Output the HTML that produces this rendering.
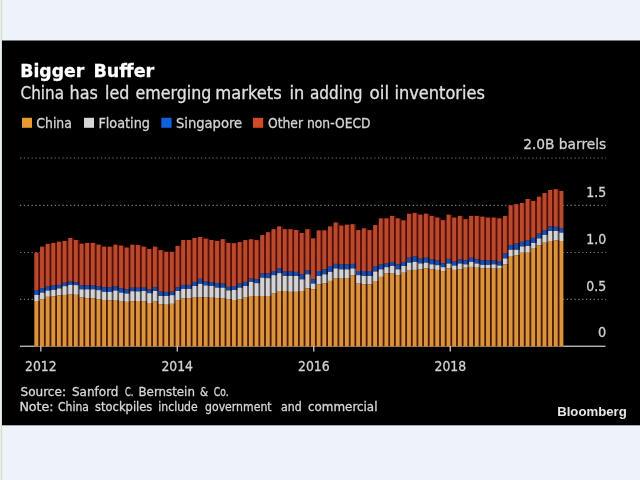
<!DOCTYPE html>
<html lang="en"><head><meta charset="utf-8"><title>Bigger Buffer</title>
<style>
html,body{margin:0;padding:0;background:#eef2fb;overflow:hidden}
svg{display:block;font-family:'DejaVu Sans Condensed','DejaVu Sans',sans-serif}
</style></head><body>
<svg width="640" height="480" viewBox="0 0 640 480">
<g>
<rect x="-30" y="-30" width="700" height="540" fill="#eef2fb"/>
<rect x="0" y="0" width="1" height="480" fill="#e8eeec"/>
<rect x="1" y="0" width="1" height="480" fill="#d4dcda"/>
<rect x="2" y="0" width="1" height="480" fill="#e9eeee"/>
<rect x="3" y="0" width="2" height="480" fill="#f0f4f7"/>
<rect x="2" y="40.5" width="670" height="384.8" fill="#000"/>
<g>
<text y="77.4" font-size="18" font-weight="bold" fill="#fff" stroke="#fff" stroke-width="0.3" style="font-family:'DejaVu Sans','DejaVu Sans',sans-serif"><tspan x="20.29" textLength="63.99" lengthAdjust="spacingAndGlyphs">Bigger</tspan> <tspan x="93.42" textLength="60.86" lengthAdjust="spacingAndGlyphs">Buffer</tspan></text>
<text y="98.8" font-size="18" font-weight="normal" fill="#e0e0e0" stroke="#e0e0e0" stroke-width="0.3" style="font-family:'DejaVu Sans Condensed','DejaVu Sans',sans-serif"><tspan x="20.6" textLength="43.36" lengthAdjust="spacingAndGlyphs">China</tspan> <tspan x="69.61" textLength="28.32" lengthAdjust="spacingAndGlyphs">has</tspan> <tspan x="105.02" textLength="24.35" lengthAdjust="spacingAndGlyphs">led</tspan> <tspan x="135.5" textLength="75.76" lengthAdjust="spacingAndGlyphs">emerging</tspan> <tspan x="215.24" textLength="66.45" lengthAdjust="spacingAndGlyphs">markets</tspan> <tspan x="289.5" textLength="14.77" lengthAdjust="spacingAndGlyphs">in</tspan> <tspan x="310.0" textLength="52.46" lengthAdjust="spacingAndGlyphs">adding</tspan> <tspan x="369.5" textLength="19.55" lengthAdjust="spacingAndGlyphs">oil</tspan> <tspan x="394.5" textLength="90.34" lengthAdjust="spacingAndGlyphs">inventories</tspan></text>
<rect x="22" y="117.8" width="10" height="10" fill="#e89a30"/>
<text x="36.3" y="127.6" textLength="35.6" lengthAdjust="spacingAndGlyphs" font-size="14" fill="#d2d2d2" stroke="#d2d2d2" stroke-width="0.3" text-anchor="start" >China</text>
<rect x="84" y="117.8" width="10" height="10" fill="#d6d6d6"/>
<text x="98.4" y="127.6" textLength="51.6" lengthAdjust="spacingAndGlyphs" font-size="14" fill="#d2d2d2" stroke="#d2d2d2" stroke-width="0.3" text-anchor="start" >Floating</text>
<rect x="161.3" y="117.8" width="10.3" height="10" fill="#105fdc"/>
<text x="175.9" y="127.6" textLength="66.3" lengthAdjust="spacingAndGlyphs" font-size="14" fill="#d2d2d2" stroke="#d2d2d2" stroke-width="0.3" text-anchor="start" >Singapore</text>
<rect x="253" y="117.8" width="10.2" height="10" fill="#d24a24"/>
<text x="268" y="127.6" textLength="102.6" lengthAdjust="spacingAndGlyphs" font-size="14" fill="#d2d2d2" stroke="#d2d2d2" stroke-width="0.3" text-anchor="start" >Other non-OECD</text>
<text x="606.2" y="148.7" textLength="83" lengthAdjust="spacingAndGlyphs" font-size="14.3" fill="#d0d0d0" stroke="#d0d0d0" stroke-width="0.3" text-anchor="end" >2.0B barrels</text>
<text x="606.2" y="196.5" textLength="19.9" lengthAdjust="spacingAndGlyphs" font-size="14.3" fill="#d0d0d0" stroke="#d0d0d0" stroke-width="0.3" text-anchor="end" >1.5</text>
<text x="606.2" y="243.7" textLength="19.9" lengthAdjust="spacingAndGlyphs" font-size="14.3" fill="#d0d0d0" stroke="#d0d0d0" stroke-width="0.3" text-anchor="end" >1.0</text>
<text x="606.2" y="290.5" textLength="19.9" lengthAdjust="spacingAndGlyphs" font-size="14.3" fill="#d0d0d0" stroke="#d0d0d0" stroke-width="0.3" text-anchor="end" >0.5</text>
<text x="606.2" y="337.4" textLength="8.2" lengthAdjust="spacingAndGlyphs" font-size="14.3" fill="#d0d0d0" stroke="#d0d0d0" stroke-width="0.3" text-anchor="end" >0</text>
</g>
<line x1="20" x2="606" y1="158" y2="158" stroke="#787878" stroke-width="1.15" stroke-dasharray="1.3 2.55"/>
<line x1="20" x2="606" y1="205.3" y2="205.3" stroke="#787878" stroke-width="1.15" stroke-dasharray="1.3 2.55"/>
<line x1="20" x2="606" y1="252.5" y2="252.5" stroke="#787878" stroke-width="1.15" stroke-dasharray="1.3 2.55"/>
<line x1="20" x2="606" y1="299.3" y2="299.3" stroke="#787878" stroke-width="1.15" stroke-dasharray="1.3 2.55"/>

<rect x="20" y="345.6" width="585.5" height="1.35" fill="#bcbcbc"/>
<g shape-rendering="auto">
<rect x="34.40" y="252.6" width="5.696" height="37.6" fill="#560e04"/><rect x="34.40" y="290.2" width="5.696" height="4.7" fill="#0a1446"/><rect x="34.40" y="294.9" width="5.696" height="6.1" fill="#584e4c"/><rect x="34.40" y="301.0" width="5.696" height="45.5" fill="#4a1a04"/>
<rect x="40.05" y="246.7" width="5.696" height="41.5" fill="#560e04"/><rect x="40.05" y="288.2" width="5.696" height="4.5" fill="#0a1446"/><rect x="40.05" y="292.7" width="5.696" height="6.6" fill="#584e4c"/><rect x="40.05" y="299.3" width="5.696" height="47.2" fill="#4a1a04"/>
<rect x="45.69" y="243.9" width="5.696" height="42.6" fill="#560e04"/><rect x="45.69" y="286.5" width="5.696" height="4.1" fill="#0a1446"/><rect x="45.69" y="290.6" width="5.696" height="6.2" fill="#584e4c"/><rect x="45.69" y="296.8" width="5.696" height="49.7" fill="#4a1a04"/>
<rect x="51.34" y="242.9" width="5.696" height="42.6" fill="#560e04"/><rect x="51.34" y="285.5" width="5.696" height="4.4" fill="#0a1446"/><rect x="51.34" y="289.9" width="5.696" height="6.5" fill="#584e4c"/><rect x="51.34" y="296.4" width="5.696" height="50.1" fill="#4a1a04"/>
<rect x="56.98" y="241.7" width="5.696" height="43.2" fill="#560e04"/><rect x="56.98" y="284.9" width="5.696" height="3.6" fill="#0a1446"/><rect x="56.98" y="288.5" width="5.696" height="6.9" fill="#584e4c"/><rect x="56.98" y="295.4" width="5.696" height="51.1" fill="#4a1a04"/>
<rect x="62.63" y="240.9" width="5.696" height="41.8" fill="#560e04"/><rect x="62.63" y="282.7" width="5.696" height="3.5" fill="#0a1446"/><rect x="62.63" y="286.2" width="5.696" height="8.7" fill="#584e4c"/><rect x="62.63" y="294.9" width="5.696" height="51.6" fill="#4a1a04"/>
<rect x="68.28" y="238.0" width="5.696" height="43.5" fill="#560e04"/><rect x="68.28" y="281.5" width="5.696" height="3.4" fill="#0a1446"/><rect x="68.28" y="284.9" width="5.696" height="9.6" fill="#584e4c"/><rect x="68.28" y="294.5" width="5.696" height="52.0" fill="#4a1a04"/>
<rect x="73.92" y="240.0" width="5.696" height="42.4" fill="#560e04"/><rect x="73.92" y="282.4" width="5.696" height="2.8" fill="#0a1446"/><rect x="73.92" y="285.2" width="5.696" height="9.6" fill="#584e4c"/><rect x="73.92" y="294.8" width="5.696" height="51.7" fill="#4a1a04"/>
<rect x="79.57" y="243.7" width="5.696" height="41.5" fill="#560e04"/><rect x="79.57" y="285.2" width="5.696" height="4.2" fill="#0a1446"/><rect x="79.57" y="289.4" width="5.696" height="8.0" fill="#584e4c"/><rect x="79.57" y="297.4" width="5.696" height="49.1" fill="#4a1a04"/>
<rect x="85.21" y="242.9" width="5.696" height="42.6" fill="#560e04"/><rect x="85.21" y="285.5" width="5.696" height="3.9" fill="#0a1446"/><rect x="85.21" y="289.4" width="5.696" height="8.8" fill="#584e4c"/><rect x="85.21" y="298.2" width="5.696" height="48.3" fill="#4a1a04"/>
<rect x="90.86" y="242.9" width="5.696" height="42.6" fill="#560e04"/><rect x="90.86" y="285.5" width="5.696" height="3.9" fill="#0a1446"/><rect x="90.86" y="289.4" width="5.696" height="9.0" fill="#584e4c"/><rect x="90.86" y="298.4" width="5.696" height="48.1" fill="#4a1a04"/>
<rect x="96.51" y="244.7" width="5.696" height="41.5" fill="#560e04"/><rect x="96.51" y="286.2" width="5.696" height="4.0" fill="#0a1446"/><rect x="96.51" y="290.2" width="5.696" height="9.0" fill="#584e4c"/><rect x="96.51" y="299.2" width="5.696" height="47.3" fill="#4a1a04"/>
<rect x="102.15" y="246.7" width="5.696" height="40.5" fill="#560e04"/><rect x="102.15" y="287.2" width="5.696" height="4.7" fill="#0a1446"/><rect x="102.15" y="291.9" width="5.696" height="8.1" fill="#584e4c"/><rect x="102.15" y="300.0" width="5.696" height="46.5" fill="#4a1a04"/>
<rect x="107.80" y="246.7" width="5.696" height="40.5" fill="#560e04"/><rect x="107.80" y="287.2" width="5.696" height="4.7" fill="#0a1446"/><rect x="107.80" y="291.9" width="5.696" height="8.5" fill="#584e4c"/><rect x="107.80" y="300.4" width="5.696" height="46.1" fill="#4a1a04"/>
<rect x="113.44" y="244.7" width="5.696" height="41.5" fill="#560e04"/><rect x="113.44" y="286.2" width="5.696" height="4.4" fill="#0a1446"/><rect x="113.44" y="290.6" width="5.696" height="9.4" fill="#584e4c"/><rect x="113.44" y="300.0" width="5.696" height="46.5" fill="#4a1a04"/>
<rect x="119.09" y="245.6" width="5.696" height="42.6" fill="#560e04"/><rect x="119.09" y="288.2" width="5.696" height="4.5" fill="#0a1446"/><rect x="119.09" y="292.7" width="5.696" height="8.9" fill="#584e4c"/><rect x="119.09" y="301.6" width="5.696" height="44.9" fill="#4a1a04"/>
<rect x="124.74" y="247.6" width="5.696" height="41.8" fill="#560e04"/><rect x="124.74" y="289.4" width="5.696" height="4.2" fill="#0a1446"/><rect x="124.74" y="293.6" width="5.696" height="8.2" fill="#584e4c"/><rect x="124.74" y="301.8" width="5.696" height="44.7" fill="#4a1a04"/>
<rect x="130.38" y="244.7" width="5.696" height="43.0" fill="#560e04"/><rect x="130.38" y="287.7" width="5.696" height="3.6" fill="#0a1446"/><rect x="130.38" y="291.3" width="5.696" height="9.9" fill="#584e4c"/><rect x="130.38" y="301.2" width="5.696" height="45.3" fill="#4a1a04"/>
<rect x="136.03" y="245.1" width="5.696" height="42.6" fill="#560e04"/><rect x="136.03" y="287.7" width="5.696" height="3.8" fill="#0a1446"/><rect x="136.03" y="291.5" width="5.696" height="9.5" fill="#584e4c"/><rect x="136.03" y="301.0" width="5.696" height="45.5" fill="#4a1a04"/>
<rect x="141.67" y="246.7" width="5.696" height="41.0" fill="#560e04"/><rect x="141.67" y="287.7" width="5.696" height="3.3" fill="#0a1446"/><rect x="141.67" y="291.0" width="5.696" height="10.5" fill="#584e4c"/><rect x="141.67" y="301.5" width="5.696" height="45.0" fill="#4a1a04"/>
<rect x="147.32" y="248.9" width="5.696" height="40.5" fill="#560e04"/><rect x="147.32" y="289.4" width="5.696" height="3.8" fill="#0a1446"/><rect x="147.32" y="293.2" width="5.696" height="9.8" fill="#584e4c"/><rect x="147.32" y="303.0" width="5.696" height="43.5" fill="#4a1a04"/>
<rect x="152.97" y="246.7" width="5.696" height="40.5" fill="#560e04"/><rect x="152.97" y="287.2" width="5.696" height="3.8" fill="#0a1446"/><rect x="152.97" y="291.0" width="5.696" height="10.5" fill="#584e4c"/><rect x="152.97" y="301.5" width="5.696" height="45.0" fill="#4a1a04"/>
<rect x="158.61" y="250.1" width="5.696" height="41.5" fill="#560e04"/><rect x="158.61" y="291.6" width="5.696" height="4.4" fill="#0a1446"/><rect x="158.61" y="296.0" width="5.696" height="8.2" fill="#584e4c"/><rect x="158.61" y="304.2" width="5.696" height="42.3" fill="#4a1a04"/>
<rect x="164.26" y="251.8" width="5.696" height="40.1" fill="#560e04"/><rect x="164.26" y="291.9" width="5.696" height="4.1" fill="#0a1446"/><rect x="164.26" y="296.0" width="5.696" height="8.7" fill="#584e4c"/><rect x="164.26" y="304.7" width="5.696" height="41.8" fill="#4a1a04"/>
<rect x="169.90" y="251.8" width="5.696" height="39.8" fill="#560e04"/><rect x="169.90" y="291.6" width="5.696" height="3.6" fill="#0a1446"/><rect x="169.90" y="295.2" width="5.696" height="8.6" fill="#584e4c"/><rect x="169.90" y="303.8" width="5.696" height="42.7" fill="#4a1a04"/>
<rect x="175.55" y="245.9" width="5.696" height="41.3" fill="#560e04"/><rect x="175.55" y="287.2" width="5.696" height="3.8" fill="#0a1446"/><rect x="175.55" y="291.0" width="5.696" height="9.1" fill="#584e4c"/><rect x="175.55" y="300.1" width="5.696" height="46.4" fill="#4a1a04"/>
<rect x="181.20" y="240.0" width="5.696" height="44.9" fill="#560e04"/><rect x="181.20" y="284.9" width="5.696" height="4.0" fill="#0a1446"/><rect x="181.20" y="288.9" width="5.696" height="9.5" fill="#584e4c"/><rect x="181.20" y="298.4" width="5.696" height="48.1" fill="#4a1a04"/>
<rect x="186.84" y="240.0" width="5.696" height="44.9" fill="#560e04"/><rect x="186.84" y="284.9" width="5.696" height="4.0" fill="#0a1446"/><rect x="186.84" y="288.9" width="5.696" height="9.5" fill="#584e4c"/><rect x="186.84" y="298.4" width="5.696" height="48.1" fill="#4a1a04"/>
<rect x="192.49" y="238.0" width="5.696" height="43.9" fill="#560e04"/><rect x="192.49" y="281.9" width="5.696" height="4.1" fill="#0a1446"/><rect x="192.49" y="286.0" width="5.696" height="11.6" fill="#584e4c"/><rect x="192.49" y="297.6" width="5.696" height="48.9" fill="#4a1a04"/>
<rect x="198.13" y="237.0" width="5.696" height="41.8" fill="#560e04"/><rect x="198.13" y="278.8" width="5.696" height="5.1" fill="#0a1446"/><rect x="198.13" y="283.9" width="5.696" height="13.3" fill="#584e4c"/><rect x="198.13" y="297.2" width="5.696" height="49.3" fill="#4a1a04"/>
<rect x="203.78" y="238.7" width="5.696" height="42.8" fill="#560e04"/><rect x="203.78" y="281.5" width="5.696" height="4.0" fill="#0a1446"/><rect x="203.78" y="285.5" width="5.696" height="12.0" fill="#584e4c"/><rect x="203.78" y="297.5" width="5.696" height="49.0" fill="#4a1a04"/>
<rect x="209.43" y="240.0" width="5.696" height="42.2" fill="#560e04"/><rect x="209.43" y="282.2" width="5.696" height="3.8" fill="#0a1446"/><rect x="209.43" y="286.0" width="5.696" height="11.7" fill="#584e4c"/><rect x="209.43" y="297.7" width="5.696" height="48.8" fill="#4a1a04"/>
<rect x="215.07" y="240.9" width="5.696" height="42.3" fill="#560e04"/><rect x="215.07" y="283.2" width="5.696" height="4.5" fill="#0a1446"/><rect x="215.07" y="287.7" width="5.696" height="10.6" fill="#584e4c"/><rect x="215.07" y="298.3" width="5.696" height="48.2" fill="#4a1a04"/>
<rect x="220.72" y="239.2" width="5.696" height="44.3" fill="#560e04"/><rect x="220.72" y="283.5" width="5.696" height="4.2" fill="#0a1446"/><rect x="220.72" y="287.7" width="5.696" height="10.7" fill="#584e4c"/><rect x="220.72" y="298.4" width="5.696" height="48.1" fill="#4a1a04"/>
<rect x="226.36" y="243.0" width="5.696" height="43.9" fill="#560e04"/><rect x="226.36" y="286.9" width="5.696" height="3.6" fill="#0a1446"/><rect x="226.36" y="290.5" width="5.696" height="8.7" fill="#584e4c"/><rect x="226.36" y="299.2" width="5.696" height="47.3" fill="#4a1a04"/>
<rect x="232.01" y="243.2" width="5.696" height="42.8" fill="#560e04"/><rect x="232.01" y="286.0" width="5.696" height="4.0" fill="#0a1446"/><rect x="232.01" y="290.0" width="5.696" height="10.0" fill="#584e4c"/><rect x="232.01" y="300.0" width="5.696" height="46.5" fill="#4a1a04"/>
<rect x="237.66" y="242.1" width="5.696" height="41.5" fill="#560e04"/><rect x="237.66" y="283.6" width="5.696" height="4.1" fill="#0a1446"/><rect x="237.66" y="287.7" width="5.696" height="11.6" fill="#584e4c"/><rect x="237.66" y="299.3" width="5.696" height="47.2" fill="#4a1a04"/>
<rect x="243.30" y="240.1" width="5.696" height="41.8" fill="#560e04"/><rect x="243.30" y="281.9" width="5.696" height="4.1" fill="#0a1446"/><rect x="243.30" y="286.0" width="5.696" height="11.6" fill="#584e4c"/><rect x="243.30" y="297.6" width="5.696" height="48.9" fill="#4a1a04"/>
<rect x="248.95" y="239.2" width="5.696" height="39.3" fill="#560e04"/><rect x="248.95" y="278.5" width="5.696" height="3.4" fill="#0a1446"/><rect x="248.95" y="281.9" width="5.696" height="14.1" fill="#584e4c"/><rect x="248.95" y="296.0" width="5.696" height="50.5" fill="#4a1a04"/>
<rect x="254.59" y="240.1" width="5.696" height="39.3" fill="#560e04"/><rect x="254.59" y="279.4" width="5.696" height="3.8" fill="#0a1446"/><rect x="254.59" y="283.2" width="5.696" height="12.8" fill="#584e4c"/><rect x="254.59" y="296.0" width="5.696" height="50.5" fill="#4a1a04"/>
<rect x="260.24" y="235.1" width="5.696" height="38.4" fill="#560e04"/><rect x="260.24" y="273.5" width="5.696" height="4.2" fill="#0a1446"/><rect x="260.24" y="277.7" width="5.696" height="18.3" fill="#584e4c"/><rect x="260.24" y="296.0" width="5.696" height="50.5" fill="#4a1a04"/>
<rect x="265.89" y="232.2" width="5.696" height="41.3" fill="#560e04"/><rect x="265.89" y="273.5" width="5.696" height="4.7" fill="#0a1446"/><rect x="265.89" y="278.2" width="5.696" height="17.8" fill="#584e4c"/><rect x="265.89" y="296.0" width="5.696" height="50.5" fill="#4a1a04"/>
<rect x="271.53" y="229.2" width="5.696" height="41.8" fill="#560e04"/><rect x="271.53" y="271.0" width="5.696" height="4.2" fill="#0a1446"/><rect x="271.53" y="275.2" width="5.696" height="18.3" fill="#584e4c"/><rect x="271.53" y="293.5" width="5.696" height="53.0" fill="#4a1a04"/>
<rect x="277.18" y="226.4" width="5.696" height="42.1" fill="#560e04"/><rect x="277.18" y="268.5" width="5.696" height="4.7" fill="#0a1446"/><rect x="277.18" y="273.2" width="5.696" height="17.8" fill="#584e4c"/><rect x="277.18" y="291.0" width="5.696" height="55.5" fill="#4a1a04"/>
<rect x="282.82" y="229.2" width="5.696" height="42.3" fill="#560e04"/><rect x="282.82" y="271.5" width="5.696" height="4.5" fill="#0a1446"/><rect x="282.82" y="276.0" width="5.696" height="15.0" fill="#584e4c"/><rect x="282.82" y="291.0" width="5.696" height="55.5" fill="#4a1a04"/>
<rect x="288.47" y="229.2" width="5.696" height="42.3" fill="#560e04"/><rect x="288.47" y="271.5" width="5.696" height="4.5" fill="#0a1446"/><rect x="288.47" y="276.0" width="5.696" height="15.8" fill="#584e4c"/><rect x="288.47" y="291.8" width="5.696" height="54.7" fill="#4a1a04"/>
<rect x="294.12" y="230.0" width="5.696" height="41.9" fill="#560e04"/><rect x="294.12" y="271.9" width="5.696" height="4.1" fill="#0a1446"/><rect x="294.12" y="276.0" width="5.696" height="15.8" fill="#584e4c"/><rect x="294.12" y="291.8" width="5.696" height="54.7" fill="#4a1a04"/>
<rect x="299.76" y="233.0" width="5.696" height="41.4" fill="#560e04"/><rect x="299.76" y="274.4" width="5.696" height="5.0" fill="#0a1446"/><rect x="299.76" y="279.4" width="5.696" height="11.6" fill="#584e4c"/><rect x="299.76" y="291.0" width="5.696" height="55.5" fill="#4a1a04"/>
<rect x="305.41" y="229.2" width="5.696" height="41.0" fill="#560e04"/><rect x="305.41" y="270.2" width="5.696" height="4.2" fill="#0a1446"/><rect x="305.41" y="274.4" width="5.696" height="14.0" fill="#584e4c"/><rect x="305.41" y="288.4" width="5.696" height="58.1" fill="#4a1a04"/>
<rect x="311.05" y="238.4" width="5.696" height="41.0" fill="#560e04"/><rect x="311.05" y="279.4" width="5.696" height="4.2" fill="#0a1446"/><rect x="311.05" y="283.6" width="5.696" height="5.7" fill="#584e4c"/><rect x="311.05" y="289.3" width="5.696" height="57.2" fill="#4a1a04"/>
<rect x="316.70" y="230.4" width="5.696" height="40.6" fill="#560e04"/><rect x="316.70" y="271.0" width="5.696" height="5.0" fill="#0a1446"/><rect x="316.70" y="276.0" width="5.696" height="8.3" fill="#584e4c"/><rect x="316.70" y="284.3" width="5.696" height="62.2" fill="#4a1a04"/>
<rect x="322.35" y="230.4" width="5.696" height="38.9" fill="#560e04"/><rect x="322.35" y="269.3" width="5.696" height="5.1" fill="#0a1446"/><rect x="322.35" y="274.4" width="5.696" height="9.0" fill="#584e4c"/><rect x="322.35" y="283.4" width="5.696" height="63.1" fill="#4a1a04"/>
<rect x="327.99" y="226.4" width="5.696" height="39.6" fill="#560e04"/><rect x="327.99" y="266.0" width="5.696" height="5.9" fill="#0a1446"/><rect x="327.99" y="271.9" width="5.696" height="9.0" fill="#584e4c"/><rect x="327.99" y="280.9" width="5.696" height="65.6" fill="#4a1a04"/>
<rect x="333.64" y="222.5" width="5.696" height="41.4" fill="#560e04"/><rect x="333.64" y="263.9" width="5.696" height="4.6" fill="#0a1446"/><rect x="333.64" y="268.5" width="5.696" height="10.0" fill="#584e4c"/><rect x="333.64" y="278.5" width="5.696" height="68.0" fill="#4a1a04"/>
<rect x="339.28" y="225.6" width="5.696" height="38.8" fill="#560e04"/><rect x="339.28" y="264.4" width="5.696" height="5.0" fill="#0a1446"/><rect x="339.28" y="269.4" width="5.696" height="9.2" fill="#584e4c"/><rect x="339.28" y="278.6" width="5.696" height="67.9" fill="#4a1a04"/>
<rect x="344.93" y="224.7" width="5.696" height="39.7" fill="#560e04"/><rect x="344.93" y="264.4" width="5.696" height="5.0" fill="#0a1446"/><rect x="344.93" y="269.4" width="5.696" height="9.2" fill="#584e4c"/><rect x="344.93" y="278.6" width="5.696" height="67.9" fill="#4a1a04"/>
<rect x="350.58" y="224.2" width="5.696" height="39.7" fill="#560e04"/><rect x="350.58" y="263.9" width="5.696" height="4.6" fill="#0a1446"/><rect x="350.58" y="268.5" width="5.696" height="6.7" fill="#584e4c"/><rect x="350.58" y="275.2" width="5.696" height="71.3" fill="#4a1a04"/>
<rect x="356.22" y="230.1" width="5.696" height="40.9" fill="#560e04"/><rect x="356.22" y="271.0" width="5.696" height="4.2" fill="#0a1446"/><rect x="356.22" y="275.2" width="5.696" height="8.4" fill="#584e4c"/><rect x="356.22" y="283.6" width="5.696" height="62.9" fill="#4a1a04"/>
<rect x="361.87" y="228.4" width="5.696" height="42.6" fill="#560e04"/><rect x="361.87" y="271.0" width="5.696" height="5.0" fill="#0a1446"/><rect x="361.87" y="276.0" width="5.696" height="8.4" fill="#584e4c"/><rect x="361.87" y="284.4" width="5.696" height="62.1" fill="#4a1a04"/>
<rect x="367.51" y="230.1" width="5.696" height="40.9" fill="#560e04"/><rect x="367.51" y="271.0" width="5.696" height="5.0" fill="#0a1446"/><rect x="367.51" y="276.0" width="5.696" height="8.4" fill="#584e4c"/><rect x="367.51" y="284.4" width="5.696" height="62.1" fill="#4a1a04"/>
<rect x="373.16" y="225.1" width="5.696" height="41.4" fill="#560e04"/><rect x="373.16" y="266.5" width="5.696" height="5.1" fill="#0a1446"/><rect x="373.16" y="271.6" width="5.696" height="9.4" fill="#584e4c"/><rect x="373.16" y="281.0" width="5.696" height="65.5" fill="#4a1a04"/>
<rect x="378.81" y="218.4" width="5.696" height="46.0" fill="#560e04"/><rect x="378.81" y="264.4" width="5.696" height="5.0" fill="#0a1446"/><rect x="378.81" y="269.4" width="5.696" height="7.5" fill="#584e4c"/><rect x="378.81" y="276.9" width="5.696" height="69.6" fill="#4a1a04"/>
<rect x="384.45" y="218.4" width="5.696" height="45.1" fill="#560e04"/><rect x="384.45" y="263.5" width="5.696" height="3.7" fill="#0a1446"/><rect x="384.45" y="267.2" width="5.696" height="6.0" fill="#584e4c"/><rect x="384.45" y="273.2" width="5.696" height="73.3" fill="#4a1a04"/>
<rect x="390.10" y="215.9" width="5.696" height="46.0" fill="#560e04"/><rect x="390.10" y="261.9" width="5.696" height="4.1" fill="#0a1446"/><rect x="390.10" y="266.0" width="5.696" height="7.6" fill="#584e4c"/><rect x="390.10" y="273.6" width="5.696" height="72.9" fill="#4a1a04"/>
<rect x="395.74" y="218.4" width="5.696" height="46.0" fill="#560e04"/><rect x="395.74" y="264.4" width="5.696" height="5.0" fill="#0a1446"/><rect x="395.74" y="269.4" width="5.696" height="5.8" fill="#584e4c"/><rect x="395.74" y="275.2" width="5.696" height="71.3" fill="#4a1a04"/>
<rect x="401.39" y="220.4" width="5.696" height="41.5" fill="#560e04"/><rect x="401.39" y="261.9" width="5.696" height="4.1" fill="#0a1446"/><rect x="401.39" y="266.0" width="5.696" height="6.7" fill="#584e4c"/><rect x="401.39" y="272.7" width="5.696" height="73.8" fill="#4a1a04"/>
<rect x="407.04" y="213.7" width="5.696" height="44.0" fill="#560e04"/><rect x="407.04" y="257.7" width="5.696" height="5.0" fill="#0a1446"/><rect x="407.04" y="262.7" width="5.696" height="7.9" fill="#584e4c"/><rect x="407.04" y="270.6" width="5.696" height="75.9" fill="#4a1a04"/>
<rect x="412.68" y="212.9" width="5.696" height="43.6" fill="#560e04"/><rect x="412.68" y="256.5" width="5.696" height="5.4" fill="#0a1446"/><rect x="412.68" y="261.9" width="5.696" height="8.0" fill="#584e4c"/><rect x="412.68" y="269.9" width="5.696" height="76.6" fill="#4a1a04"/>
<rect x="418.33" y="214.7" width="5.696" height="43.8" fill="#560e04"/><rect x="418.33" y="258.5" width="5.696" height="5.0" fill="#0a1446"/><rect x="418.33" y="263.5" width="5.696" height="5.9" fill="#584e4c"/><rect x="418.33" y="269.4" width="5.696" height="77.1" fill="#4a1a04"/>
<rect x="423.97" y="213.7" width="5.696" height="44.0" fill="#560e04"/><rect x="423.97" y="257.7" width="5.696" height="5.0" fill="#0a1446"/><rect x="423.97" y="262.7" width="5.696" height="5.5" fill="#584e4c"/><rect x="423.97" y="268.2" width="5.696" height="78.3" fill="#4a1a04"/>
<rect x="429.62" y="215.9" width="5.696" height="43.5" fill="#560e04"/><rect x="429.62" y="259.4" width="5.696" height="5.0" fill="#0a1446"/><rect x="429.62" y="264.4" width="5.696" height="5.0" fill="#584e4c"/><rect x="429.62" y="269.4" width="5.696" height="77.1" fill="#4a1a04"/>
<rect x="435.27" y="217.6" width="5.696" height="42.8" fill="#560e04"/><rect x="435.27" y="260.4" width="5.696" height="4.8" fill="#0a1446"/><rect x="435.27" y="265.2" width="5.696" height="4.7" fill="#584e4c"/><rect x="435.27" y="269.9" width="5.696" height="76.6" fill="#4a1a04"/>
<rect x="440.91" y="220.1" width="5.696" height="43.1" fill="#560e04"/><rect x="440.91" y="263.2" width="5.696" height="4.0" fill="#0a1446"/><rect x="440.91" y="267.2" width="5.696" height="3.9" fill="#584e4c"/><rect x="440.91" y="271.1" width="5.696" height="75.4" fill="#4a1a04"/>
<rect x="446.56" y="214.7" width="5.696" height="44.2" fill="#560e04"/><rect x="446.56" y="258.9" width="5.696" height="4.7" fill="#0a1446"/><rect x="446.56" y="263.6" width="5.696" height="4.6" fill="#584e4c"/><rect x="446.56" y="268.2" width="5.696" height="78.3" fill="#4a1a04"/>
<rect x="452.20" y="217.6" width="5.696" height="44.0" fill="#560e04"/><rect x="452.20" y="261.6" width="5.696" height="4.0" fill="#0a1446"/><rect x="452.20" y="265.6" width="5.696" height="4.3" fill="#584e4c"/><rect x="452.20" y="269.9" width="5.696" height="76.6" fill="#4a1a04"/>
<rect x="457.85" y="215.9" width="5.696" height="43.5" fill="#560e04"/><rect x="457.85" y="259.4" width="5.696" height="4.2" fill="#0a1446"/><rect x="457.85" y="263.6" width="5.696" height="5.8" fill="#584e4c"/><rect x="457.85" y="269.4" width="5.696" height="77.1" fill="#4a1a04"/>
<rect x="463.50" y="219.2" width="5.696" height="41.0" fill="#560e04"/><rect x="463.50" y="260.2" width="5.696" height="4.2" fill="#0a1446"/><rect x="463.50" y="264.4" width="5.696" height="3.3" fill="#584e4c"/><rect x="463.50" y="267.7" width="5.696" height="78.8" fill="#4a1a04"/>
<rect x="469.14" y="215.9" width="5.696" height="41.8" fill="#560e04"/><rect x="469.14" y="257.7" width="5.696" height="4.2" fill="#0a1446"/><rect x="469.14" y="261.9" width="5.696" height="5.0" fill="#584e4c"/><rect x="469.14" y="266.9" width="5.696" height="79.6" fill="#4a1a04"/>
<rect x="474.79" y="215.9" width="5.696" height="43.5" fill="#560e04"/><rect x="474.79" y="259.4" width="5.696" height="4.2" fill="#0a1446"/><rect x="474.79" y="263.6" width="5.696" height="4.1" fill="#584e4c"/><rect x="474.79" y="267.7" width="5.696" height="78.8" fill="#4a1a04"/>
<rect x="480.43" y="216.7" width="5.696" height="43.5" fill="#560e04"/><rect x="480.43" y="260.2" width="5.696" height="4.7" fill="#0a1446"/><rect x="480.43" y="264.9" width="5.696" height="3.3" fill="#584e4c"/><rect x="480.43" y="268.2" width="5.696" height="78.3" fill="#4a1a04"/>
<rect x="486.08" y="217.6" width="5.696" height="42.9" fill="#560e04"/><rect x="486.08" y="260.5" width="5.696" height="4.4" fill="#0a1446"/><rect x="486.08" y="264.9" width="5.696" height="3.3" fill="#584e4c"/><rect x="486.08" y="268.2" width="5.696" height="78.3" fill="#4a1a04"/>
<rect x="491.73" y="217.6" width="5.696" height="42.9" fill="#560e04"/><rect x="491.73" y="260.5" width="5.696" height="3.9" fill="#0a1446"/><rect x="491.73" y="264.4" width="5.696" height="4.2" fill="#584e4c"/><rect x="491.73" y="268.6" width="5.696" height="77.9" fill="#4a1a04"/>
<rect x="497.37" y="218.4" width="5.696" height="42.6" fill="#560e04"/><rect x="497.37" y="261.0" width="5.696" height="4.6" fill="#0a1446"/><rect x="497.37" y="265.6" width="5.696" height="3.0" fill="#584e4c"/><rect x="497.37" y="268.6" width="5.696" height="77.9" fill="#4a1a04"/>
<rect x="503.02" y="215.9" width="5.696" height="37.6" fill="#560e04"/><rect x="503.02" y="253.5" width="5.696" height="5.0" fill="#0a1446"/><rect x="503.02" y="258.5" width="5.696" height="5.9" fill="#584e4c"/><rect x="503.02" y="264.4" width="5.696" height="82.1" fill="#4a1a04"/>
<rect x="508.66" y="205.3" width="5.696" height="39.9" fill="#560e04"/><rect x="508.66" y="245.2" width="5.696" height="4.6" fill="#0a1446"/><rect x="508.66" y="249.8" width="5.696" height="6.2" fill="#584e4c"/><rect x="508.66" y="256.0" width="5.696" height="90.5" fill="#4a1a04"/>
<rect x="514.31" y="204.2" width="5.696" height="39.3" fill="#560e04"/><rect x="514.31" y="243.5" width="5.696" height="6.3" fill="#0a1446"/><rect x="514.31" y="249.8" width="5.696" height="5.4" fill="#584e4c"/><rect x="514.31" y="255.2" width="5.696" height="91.3" fill="#4a1a04"/>
<rect x="519.96" y="203.0" width="5.696" height="38.8" fill="#560e04"/><rect x="519.96" y="241.8" width="5.696" height="4.7" fill="#0a1446"/><rect x="519.96" y="246.5" width="5.696" height="6.2" fill="#584e4c"/><rect x="519.96" y="252.7" width="5.696" height="93.8" fill="#4a1a04"/>
<rect x="525.60" y="199.0" width="5.696" height="41.1" fill="#560e04"/><rect x="525.60" y="240.1" width="5.696" height="5.9" fill="#0a1446"/><rect x="525.60" y="246.0" width="5.696" height="6.7" fill="#584e4c"/><rect x="525.60" y="252.7" width="5.696" height="93.8" fill="#4a1a04"/>
<rect x="531.25" y="200.9" width="5.696" height="37.0" fill="#560e04"/><rect x="531.25" y="237.9" width="5.696" height="5.1" fill="#0a1446"/><rect x="531.25" y="243.0" width="5.696" height="5.0" fill="#584e4c"/><rect x="531.25" y="248.0" width="5.696" height="98.5" fill="#4a1a04"/>
<rect x="536.89" y="196.7" width="5.696" height="36.8" fill="#560e04"/><rect x="536.89" y="233.5" width="5.696" height="5.0" fill="#0a1446"/><rect x="536.89" y="238.5" width="5.696" height="6.7" fill="#584e4c"/><rect x="536.89" y="245.2" width="5.696" height="101.3" fill="#4a1a04"/>
<rect x="542.54" y="193.1" width="5.696" height="37.1" fill="#560e04"/><rect x="542.54" y="230.2" width="5.696" height="4.7" fill="#0a1446"/><rect x="542.54" y="234.9" width="5.696" height="7.8" fill="#584e4c"/><rect x="542.54" y="242.7" width="5.696" height="103.8" fill="#4a1a04"/>
<rect x="548.19" y="190.0" width="5.696" height="36.5" fill="#560e04"/><rect x="548.19" y="226.5" width="5.696" height="4.5" fill="#0a1446"/><rect x="548.19" y="231.0" width="5.696" height="10.0" fill="#584e4c"/><rect x="548.19" y="241.0" width="5.696" height="105.5" fill="#4a1a04"/>
<rect x="553.83" y="189.2" width="5.696" height="37.6" fill="#560e04"/><rect x="553.83" y="226.8" width="5.696" height="4.2" fill="#0a1446"/><rect x="553.83" y="231.0" width="5.696" height="9.5" fill="#584e4c"/><rect x="553.83" y="240.5" width="5.696" height="106.0" fill="#4a1a04"/>
<rect x="559.48" y="190.9" width="3.850" height="37.3" fill="#560e04"/><rect x="559.48" y="228.2" width="3.850" height="4.5" fill="#0a1446"/><rect x="559.48" y="232.7" width="3.850" height="8.3" fill="#584e4c"/><rect x="559.48" y="241.0" width="3.850" height="105.5" fill="#4a1a04"/>
<rect x="34.40" y="252.6" width="3.85" height="37.6" fill="#ba4a2e"/><rect x="34.40" y="290.2" width="3.85" height="4.7" fill="#1a50ac"/><rect x="34.40" y="294.9" width="3.85" height="6.1" fill="#d2d4d8"/><rect x="34.40" y="301.0" width="3.85" height="45.5" fill="#da943c"/>
<rect x="40.05" y="246.7" width="3.85" height="41.5" fill="#ba4a2e"/><rect x="40.05" y="288.2" width="3.85" height="4.5" fill="#1a50ac"/><rect x="40.05" y="292.7" width="3.85" height="6.6" fill="#d2d4d8"/><rect x="40.05" y="299.3" width="3.85" height="47.2" fill="#da943c"/>
<rect x="45.69" y="243.9" width="3.85" height="42.6" fill="#ba4a2e"/><rect x="45.69" y="286.5" width="3.85" height="4.1" fill="#1a50ac"/><rect x="45.69" y="290.6" width="3.85" height="6.2" fill="#d2d4d8"/><rect x="45.69" y="296.8" width="3.85" height="49.7" fill="#da943c"/>
<rect x="51.34" y="242.9" width="3.85" height="42.6" fill="#ba4a2e"/><rect x="51.34" y="285.5" width="3.85" height="4.4" fill="#1a50ac"/><rect x="51.34" y="289.9" width="3.85" height="6.5" fill="#d2d4d8"/><rect x="51.34" y="296.4" width="3.85" height="50.1" fill="#da943c"/>
<rect x="56.98" y="241.7" width="3.85" height="43.2" fill="#ba4a2e"/><rect x="56.98" y="284.9" width="3.85" height="3.6" fill="#1a50ac"/><rect x="56.98" y="288.5" width="3.85" height="6.9" fill="#d2d4d8"/><rect x="56.98" y="295.4" width="3.85" height="51.1" fill="#da943c"/>
<rect x="62.63" y="240.9" width="3.85" height="41.8" fill="#ba4a2e"/><rect x="62.63" y="282.7" width="3.85" height="3.5" fill="#1a50ac"/><rect x="62.63" y="286.2" width="3.85" height="8.7" fill="#d2d4d8"/><rect x="62.63" y="294.9" width="3.85" height="51.6" fill="#da943c"/>
<rect x="68.28" y="238.0" width="3.85" height="43.5" fill="#ba4a2e"/><rect x="68.28" y="281.5" width="3.85" height="3.4" fill="#1a50ac"/><rect x="68.28" y="284.9" width="3.85" height="9.6" fill="#d2d4d8"/><rect x="68.28" y="294.5" width="3.85" height="52.0" fill="#da943c"/>
<rect x="73.92" y="240.0" width="3.85" height="42.4" fill="#ba4a2e"/><rect x="73.92" y="282.4" width="3.85" height="2.8" fill="#1a50ac"/><rect x="73.92" y="285.2" width="3.85" height="9.6" fill="#d2d4d8"/><rect x="73.92" y="294.8" width="3.85" height="51.7" fill="#da943c"/>
<rect x="79.57" y="243.7" width="3.85" height="41.5" fill="#ba4a2e"/><rect x="79.57" y="285.2" width="3.85" height="4.2" fill="#1a50ac"/><rect x="79.57" y="289.4" width="3.85" height="8.0" fill="#d2d4d8"/><rect x="79.57" y="297.4" width="3.85" height="49.1" fill="#da943c"/>
<rect x="85.21" y="242.9" width="3.85" height="42.6" fill="#ba4a2e"/><rect x="85.21" y="285.5" width="3.85" height="3.9" fill="#1a50ac"/><rect x="85.21" y="289.4" width="3.85" height="8.8" fill="#d2d4d8"/><rect x="85.21" y="298.2" width="3.85" height="48.3" fill="#da943c"/>
<rect x="90.86" y="242.9" width="3.85" height="42.6" fill="#ba4a2e"/><rect x="90.86" y="285.5" width="3.85" height="3.9" fill="#1a50ac"/><rect x="90.86" y="289.4" width="3.85" height="9.0" fill="#d2d4d8"/><rect x="90.86" y="298.4" width="3.85" height="48.1" fill="#da943c"/>
<rect x="96.51" y="244.7" width="3.85" height="41.5" fill="#ba4a2e"/><rect x="96.51" y="286.2" width="3.85" height="4.0" fill="#1a50ac"/><rect x="96.51" y="290.2" width="3.85" height="9.0" fill="#d2d4d8"/><rect x="96.51" y="299.2" width="3.85" height="47.3" fill="#da943c"/>
<rect x="102.15" y="246.7" width="3.85" height="40.5" fill="#ba4a2e"/><rect x="102.15" y="287.2" width="3.85" height="4.7" fill="#1a50ac"/><rect x="102.15" y="291.9" width="3.85" height="8.1" fill="#d2d4d8"/><rect x="102.15" y="300.0" width="3.85" height="46.5" fill="#da943c"/>
<rect x="107.80" y="246.7" width="3.85" height="40.5" fill="#ba4a2e"/><rect x="107.80" y="287.2" width="3.85" height="4.7" fill="#1a50ac"/><rect x="107.80" y="291.9" width="3.85" height="8.5" fill="#d2d4d8"/><rect x="107.80" y="300.4" width="3.85" height="46.1" fill="#da943c"/>
<rect x="113.44" y="244.7" width="3.85" height="41.5" fill="#ba4a2e"/><rect x="113.44" y="286.2" width="3.85" height="4.4" fill="#1a50ac"/><rect x="113.44" y="290.6" width="3.85" height="9.4" fill="#d2d4d8"/><rect x="113.44" y="300.0" width="3.85" height="46.5" fill="#da943c"/>
<rect x="119.09" y="245.6" width="3.85" height="42.6" fill="#ba4a2e"/><rect x="119.09" y="288.2" width="3.85" height="4.5" fill="#1a50ac"/><rect x="119.09" y="292.7" width="3.85" height="8.9" fill="#d2d4d8"/><rect x="119.09" y="301.6" width="3.85" height="44.9" fill="#da943c"/>
<rect x="124.74" y="247.6" width="3.85" height="41.8" fill="#ba4a2e"/><rect x="124.74" y="289.4" width="3.85" height="4.2" fill="#1a50ac"/><rect x="124.74" y="293.6" width="3.85" height="8.2" fill="#d2d4d8"/><rect x="124.74" y="301.8" width="3.85" height="44.7" fill="#da943c"/>
<rect x="130.38" y="244.7" width="3.85" height="43.0" fill="#ba4a2e"/><rect x="130.38" y="287.7" width="3.85" height="3.6" fill="#1a50ac"/><rect x="130.38" y="291.3" width="3.85" height="9.9" fill="#d2d4d8"/><rect x="130.38" y="301.2" width="3.85" height="45.3" fill="#da943c"/>
<rect x="136.03" y="245.1" width="3.85" height="42.6" fill="#ba4a2e"/><rect x="136.03" y="287.7" width="3.85" height="3.8" fill="#1a50ac"/><rect x="136.03" y="291.5" width="3.85" height="9.5" fill="#d2d4d8"/><rect x="136.03" y="301.0" width="3.85" height="45.5" fill="#da943c"/>
<rect x="141.67" y="246.7" width="3.85" height="41.0" fill="#ba4a2e"/><rect x="141.67" y="287.7" width="3.85" height="3.3" fill="#1a50ac"/><rect x="141.67" y="291.0" width="3.85" height="10.5" fill="#d2d4d8"/><rect x="141.67" y="301.5" width="3.85" height="45.0" fill="#da943c"/>
<rect x="147.32" y="248.9" width="3.85" height="40.5" fill="#ba4a2e"/><rect x="147.32" y="289.4" width="3.85" height="3.8" fill="#1a50ac"/><rect x="147.32" y="293.2" width="3.85" height="9.8" fill="#d2d4d8"/><rect x="147.32" y="303.0" width="3.85" height="43.5" fill="#da943c"/>
<rect x="152.97" y="246.7" width="3.85" height="40.5" fill="#ba4a2e"/><rect x="152.97" y="287.2" width="3.85" height="3.8" fill="#1a50ac"/><rect x="152.97" y="291.0" width="3.85" height="10.5" fill="#d2d4d8"/><rect x="152.97" y="301.5" width="3.85" height="45.0" fill="#da943c"/>
<rect x="158.61" y="250.1" width="3.85" height="41.5" fill="#ba4a2e"/><rect x="158.61" y="291.6" width="3.85" height="4.4" fill="#1a50ac"/><rect x="158.61" y="296.0" width="3.85" height="8.2" fill="#d2d4d8"/><rect x="158.61" y="304.2" width="3.85" height="42.3" fill="#da943c"/>
<rect x="164.26" y="251.8" width="3.85" height="40.1" fill="#ba4a2e"/><rect x="164.26" y="291.9" width="3.85" height="4.1" fill="#1a50ac"/><rect x="164.26" y="296.0" width="3.85" height="8.7" fill="#d2d4d8"/><rect x="164.26" y="304.7" width="3.85" height="41.8" fill="#da943c"/>
<rect x="169.90" y="251.8" width="3.85" height="39.8" fill="#ba4a2e"/><rect x="169.90" y="291.6" width="3.85" height="3.6" fill="#1a50ac"/><rect x="169.90" y="295.2" width="3.85" height="8.6" fill="#d2d4d8"/><rect x="169.90" y="303.8" width="3.85" height="42.7" fill="#da943c"/>
<rect x="175.55" y="245.9" width="3.85" height="41.3" fill="#ba4a2e"/><rect x="175.55" y="287.2" width="3.85" height="3.8" fill="#1a50ac"/><rect x="175.55" y="291.0" width="3.85" height="9.1" fill="#d2d4d8"/><rect x="175.55" y="300.1" width="3.85" height="46.4" fill="#da943c"/>
<rect x="181.20" y="240.0" width="3.85" height="44.9" fill="#ba4a2e"/><rect x="181.20" y="284.9" width="3.85" height="4.0" fill="#1a50ac"/><rect x="181.20" y="288.9" width="3.85" height="9.5" fill="#d2d4d8"/><rect x="181.20" y="298.4" width="3.85" height="48.1" fill="#da943c"/>
<rect x="186.84" y="240.0" width="3.85" height="44.9" fill="#ba4a2e"/><rect x="186.84" y="284.9" width="3.85" height="4.0" fill="#1a50ac"/><rect x="186.84" y="288.9" width="3.85" height="9.5" fill="#d2d4d8"/><rect x="186.84" y="298.4" width="3.85" height="48.1" fill="#da943c"/>
<rect x="192.49" y="238.0" width="3.85" height="43.9" fill="#ba4a2e"/><rect x="192.49" y="281.9" width="3.85" height="4.1" fill="#1a50ac"/><rect x="192.49" y="286.0" width="3.85" height="11.6" fill="#d2d4d8"/><rect x="192.49" y="297.6" width="3.85" height="48.9" fill="#da943c"/>
<rect x="198.13" y="237.0" width="3.85" height="41.8" fill="#ba4a2e"/><rect x="198.13" y="278.8" width="3.85" height="5.1" fill="#1a50ac"/><rect x="198.13" y="283.9" width="3.85" height="13.3" fill="#d2d4d8"/><rect x="198.13" y="297.2" width="3.85" height="49.3" fill="#da943c"/>
<rect x="203.78" y="238.7" width="3.85" height="42.8" fill="#ba4a2e"/><rect x="203.78" y="281.5" width="3.85" height="4.0" fill="#1a50ac"/><rect x="203.78" y="285.5" width="3.85" height="12.0" fill="#d2d4d8"/><rect x="203.78" y="297.5" width="3.85" height="49.0" fill="#da943c"/>
<rect x="209.43" y="240.0" width="3.85" height="42.2" fill="#ba4a2e"/><rect x="209.43" y="282.2" width="3.85" height="3.8" fill="#1a50ac"/><rect x="209.43" y="286.0" width="3.85" height="11.7" fill="#d2d4d8"/><rect x="209.43" y="297.7" width="3.85" height="48.8" fill="#da943c"/>
<rect x="215.07" y="240.9" width="3.85" height="42.3" fill="#ba4a2e"/><rect x="215.07" y="283.2" width="3.85" height="4.5" fill="#1a50ac"/><rect x="215.07" y="287.7" width="3.85" height="10.6" fill="#d2d4d8"/><rect x="215.07" y="298.3" width="3.85" height="48.2" fill="#da943c"/>
<rect x="220.72" y="239.2" width="3.85" height="44.3" fill="#ba4a2e"/><rect x="220.72" y="283.5" width="3.85" height="4.2" fill="#1a50ac"/><rect x="220.72" y="287.7" width="3.85" height="10.7" fill="#d2d4d8"/><rect x="220.72" y="298.4" width="3.85" height="48.1" fill="#da943c"/>
<rect x="226.36" y="243.0" width="3.85" height="43.9" fill="#ba4a2e"/><rect x="226.36" y="286.9" width="3.85" height="3.6" fill="#1a50ac"/><rect x="226.36" y="290.5" width="3.85" height="8.7" fill="#d2d4d8"/><rect x="226.36" y="299.2" width="3.85" height="47.3" fill="#da943c"/>
<rect x="232.01" y="243.2" width="3.85" height="42.8" fill="#ba4a2e"/><rect x="232.01" y="286.0" width="3.85" height="4.0" fill="#1a50ac"/><rect x="232.01" y="290.0" width="3.85" height="10.0" fill="#d2d4d8"/><rect x="232.01" y="300.0" width="3.85" height="46.5" fill="#da943c"/>
<rect x="237.66" y="242.1" width="3.85" height="41.5" fill="#ba4a2e"/><rect x="237.66" y="283.6" width="3.85" height="4.1" fill="#1a50ac"/><rect x="237.66" y="287.7" width="3.85" height="11.6" fill="#d2d4d8"/><rect x="237.66" y="299.3" width="3.85" height="47.2" fill="#da943c"/>
<rect x="243.30" y="240.1" width="3.85" height="41.8" fill="#ba4a2e"/><rect x="243.30" y="281.9" width="3.85" height="4.1" fill="#1a50ac"/><rect x="243.30" y="286.0" width="3.85" height="11.6" fill="#d2d4d8"/><rect x="243.30" y="297.6" width="3.85" height="48.9" fill="#da943c"/>
<rect x="248.95" y="239.2" width="3.85" height="39.3" fill="#ba4a2e"/><rect x="248.95" y="278.5" width="3.85" height="3.4" fill="#1a50ac"/><rect x="248.95" y="281.9" width="3.85" height="14.1" fill="#d2d4d8"/><rect x="248.95" y="296.0" width="3.85" height="50.5" fill="#da943c"/>
<rect x="254.59" y="240.1" width="3.85" height="39.3" fill="#ba4a2e"/><rect x="254.59" y="279.4" width="3.85" height="3.8" fill="#1a50ac"/><rect x="254.59" y="283.2" width="3.85" height="12.8" fill="#d2d4d8"/><rect x="254.59" y="296.0" width="3.85" height="50.5" fill="#da943c"/>
<rect x="260.24" y="235.1" width="3.85" height="38.4" fill="#ba4a2e"/><rect x="260.24" y="273.5" width="3.85" height="4.2" fill="#1a50ac"/><rect x="260.24" y="277.7" width="3.85" height="18.3" fill="#d2d4d8"/><rect x="260.24" y="296.0" width="3.85" height="50.5" fill="#da943c"/>
<rect x="265.89" y="232.2" width="3.85" height="41.3" fill="#ba4a2e"/><rect x="265.89" y="273.5" width="3.85" height="4.7" fill="#1a50ac"/><rect x="265.89" y="278.2" width="3.85" height="17.8" fill="#d2d4d8"/><rect x="265.89" y="296.0" width="3.85" height="50.5" fill="#da943c"/>
<rect x="271.53" y="229.2" width="3.85" height="41.8" fill="#ba4a2e"/><rect x="271.53" y="271.0" width="3.85" height="4.2" fill="#1a50ac"/><rect x="271.53" y="275.2" width="3.85" height="18.3" fill="#d2d4d8"/><rect x="271.53" y="293.5" width="3.85" height="53.0" fill="#da943c"/>
<rect x="277.18" y="226.4" width="3.85" height="42.1" fill="#ba4a2e"/><rect x="277.18" y="268.5" width="3.85" height="4.7" fill="#1a50ac"/><rect x="277.18" y="273.2" width="3.85" height="17.8" fill="#d2d4d8"/><rect x="277.18" y="291.0" width="3.85" height="55.5" fill="#da943c"/>
<rect x="282.82" y="229.2" width="3.85" height="42.3" fill="#ba4a2e"/><rect x="282.82" y="271.5" width="3.85" height="4.5" fill="#1a50ac"/><rect x="282.82" y="276.0" width="3.85" height="15.0" fill="#d2d4d8"/><rect x="282.82" y="291.0" width="3.85" height="55.5" fill="#da943c"/>
<rect x="288.47" y="229.2" width="3.85" height="42.3" fill="#ba4a2e"/><rect x="288.47" y="271.5" width="3.85" height="4.5" fill="#1a50ac"/><rect x="288.47" y="276.0" width="3.85" height="15.8" fill="#d2d4d8"/><rect x="288.47" y="291.8" width="3.85" height="54.7" fill="#da943c"/>
<rect x="294.12" y="230.0" width="3.85" height="41.9" fill="#ba4a2e"/><rect x="294.12" y="271.9" width="3.85" height="4.1" fill="#1a50ac"/><rect x="294.12" y="276.0" width="3.85" height="15.8" fill="#d2d4d8"/><rect x="294.12" y="291.8" width="3.85" height="54.7" fill="#da943c"/>
<rect x="299.76" y="233.0" width="3.85" height="41.4" fill="#ba4a2e"/><rect x="299.76" y="274.4" width="3.85" height="5.0" fill="#1a50ac"/><rect x="299.76" y="279.4" width="3.85" height="11.6" fill="#d2d4d8"/><rect x="299.76" y="291.0" width="3.85" height="55.5" fill="#da943c"/>
<rect x="305.41" y="229.2" width="3.85" height="41.0" fill="#ba4a2e"/><rect x="305.41" y="270.2" width="3.85" height="4.2" fill="#1a50ac"/><rect x="305.41" y="274.4" width="3.85" height="14.0" fill="#d2d4d8"/><rect x="305.41" y="288.4" width="3.85" height="58.1" fill="#da943c"/>
<rect x="311.05" y="238.4" width="3.85" height="41.0" fill="#ba4a2e"/><rect x="311.05" y="279.4" width="3.85" height="4.2" fill="#1a50ac"/><rect x="311.05" y="283.6" width="3.85" height="5.7" fill="#d2d4d8"/><rect x="311.05" y="289.3" width="3.85" height="57.2" fill="#da943c"/>
<rect x="316.70" y="230.4" width="3.85" height="40.6" fill="#ba4a2e"/><rect x="316.70" y="271.0" width="3.85" height="5.0" fill="#1a50ac"/><rect x="316.70" y="276.0" width="3.85" height="8.3" fill="#d2d4d8"/><rect x="316.70" y="284.3" width="3.85" height="62.2" fill="#da943c"/>
<rect x="322.35" y="230.4" width="3.85" height="38.9" fill="#ba4a2e"/><rect x="322.35" y="269.3" width="3.85" height="5.1" fill="#1a50ac"/><rect x="322.35" y="274.4" width="3.85" height="9.0" fill="#d2d4d8"/><rect x="322.35" y="283.4" width="3.85" height="63.1" fill="#da943c"/>
<rect x="327.99" y="226.4" width="3.85" height="39.6" fill="#ba4a2e"/><rect x="327.99" y="266.0" width="3.85" height="5.9" fill="#1a50ac"/><rect x="327.99" y="271.9" width="3.85" height="9.0" fill="#d2d4d8"/><rect x="327.99" y="280.9" width="3.85" height="65.6" fill="#da943c"/>
<rect x="333.64" y="222.5" width="3.85" height="41.4" fill="#ba4a2e"/><rect x="333.64" y="263.9" width="3.85" height="4.6" fill="#1a50ac"/><rect x="333.64" y="268.5" width="3.85" height="10.0" fill="#d2d4d8"/><rect x="333.64" y="278.5" width="3.85" height="68.0" fill="#da943c"/>
<rect x="339.28" y="225.6" width="3.85" height="38.8" fill="#ba4a2e"/><rect x="339.28" y="264.4" width="3.85" height="5.0" fill="#1a50ac"/><rect x="339.28" y="269.4" width="3.85" height="9.2" fill="#d2d4d8"/><rect x="339.28" y="278.6" width="3.85" height="67.9" fill="#da943c"/>
<rect x="344.93" y="224.7" width="3.85" height="39.7" fill="#ba4a2e"/><rect x="344.93" y="264.4" width="3.85" height="5.0" fill="#1a50ac"/><rect x="344.93" y="269.4" width="3.85" height="9.2" fill="#d2d4d8"/><rect x="344.93" y="278.6" width="3.85" height="67.9" fill="#da943c"/>
<rect x="350.58" y="224.2" width="3.85" height="39.7" fill="#ba4a2e"/><rect x="350.58" y="263.9" width="3.85" height="4.6" fill="#1a50ac"/><rect x="350.58" y="268.5" width="3.85" height="6.7" fill="#d2d4d8"/><rect x="350.58" y="275.2" width="3.85" height="71.3" fill="#da943c"/>
<rect x="356.22" y="230.1" width="3.85" height="40.9" fill="#ba4a2e"/><rect x="356.22" y="271.0" width="3.85" height="4.2" fill="#1a50ac"/><rect x="356.22" y="275.2" width="3.85" height="8.4" fill="#d2d4d8"/><rect x="356.22" y="283.6" width="3.85" height="62.9" fill="#da943c"/>
<rect x="361.87" y="228.4" width="3.85" height="42.6" fill="#ba4a2e"/><rect x="361.87" y="271.0" width="3.85" height="5.0" fill="#1a50ac"/><rect x="361.87" y="276.0" width="3.85" height="8.4" fill="#d2d4d8"/><rect x="361.87" y="284.4" width="3.85" height="62.1" fill="#da943c"/>
<rect x="367.51" y="230.1" width="3.85" height="40.9" fill="#ba4a2e"/><rect x="367.51" y="271.0" width="3.85" height="5.0" fill="#1a50ac"/><rect x="367.51" y="276.0" width="3.85" height="8.4" fill="#d2d4d8"/><rect x="367.51" y="284.4" width="3.85" height="62.1" fill="#da943c"/>
<rect x="373.16" y="225.1" width="3.85" height="41.4" fill="#ba4a2e"/><rect x="373.16" y="266.5" width="3.85" height="5.1" fill="#1a50ac"/><rect x="373.16" y="271.6" width="3.85" height="9.4" fill="#d2d4d8"/><rect x="373.16" y="281.0" width="3.85" height="65.5" fill="#da943c"/>
<rect x="378.81" y="218.4" width="3.85" height="46.0" fill="#ba4a2e"/><rect x="378.81" y="264.4" width="3.85" height="5.0" fill="#1a50ac"/><rect x="378.81" y="269.4" width="3.85" height="7.5" fill="#d2d4d8"/><rect x="378.81" y="276.9" width="3.85" height="69.6" fill="#da943c"/>
<rect x="384.45" y="218.4" width="3.85" height="45.1" fill="#ba4a2e"/><rect x="384.45" y="263.5" width="3.85" height="3.7" fill="#1a50ac"/><rect x="384.45" y="267.2" width="3.85" height="6.0" fill="#d2d4d8"/><rect x="384.45" y="273.2" width="3.85" height="73.3" fill="#da943c"/>
<rect x="390.10" y="215.9" width="3.85" height="46.0" fill="#ba4a2e"/><rect x="390.10" y="261.9" width="3.85" height="4.1" fill="#1a50ac"/><rect x="390.10" y="266.0" width="3.85" height="7.6" fill="#d2d4d8"/><rect x="390.10" y="273.6" width="3.85" height="72.9" fill="#da943c"/>
<rect x="395.74" y="218.4" width="3.85" height="46.0" fill="#ba4a2e"/><rect x="395.74" y="264.4" width="3.85" height="5.0" fill="#1a50ac"/><rect x="395.74" y="269.4" width="3.85" height="5.8" fill="#d2d4d8"/><rect x="395.74" y="275.2" width="3.85" height="71.3" fill="#da943c"/>
<rect x="401.39" y="220.4" width="3.85" height="41.5" fill="#ba4a2e"/><rect x="401.39" y="261.9" width="3.85" height="4.1" fill="#1a50ac"/><rect x="401.39" y="266.0" width="3.85" height="6.7" fill="#d2d4d8"/><rect x="401.39" y="272.7" width="3.85" height="73.8" fill="#da943c"/>
<rect x="407.04" y="213.7" width="3.85" height="44.0" fill="#ba4a2e"/><rect x="407.04" y="257.7" width="3.85" height="5.0" fill="#1a50ac"/><rect x="407.04" y="262.7" width="3.85" height="7.9" fill="#d2d4d8"/><rect x="407.04" y="270.6" width="3.85" height="75.9" fill="#da943c"/>
<rect x="412.68" y="212.9" width="3.85" height="43.6" fill="#ba4a2e"/><rect x="412.68" y="256.5" width="3.85" height="5.4" fill="#1a50ac"/><rect x="412.68" y="261.9" width="3.85" height="8.0" fill="#d2d4d8"/><rect x="412.68" y="269.9" width="3.85" height="76.6" fill="#da943c"/>
<rect x="418.33" y="214.7" width="3.85" height="43.8" fill="#ba4a2e"/><rect x="418.33" y="258.5" width="3.85" height="5.0" fill="#1a50ac"/><rect x="418.33" y="263.5" width="3.85" height="5.9" fill="#d2d4d8"/><rect x="418.33" y="269.4" width="3.85" height="77.1" fill="#da943c"/>
<rect x="423.97" y="213.7" width="3.85" height="44.0" fill="#ba4a2e"/><rect x="423.97" y="257.7" width="3.85" height="5.0" fill="#1a50ac"/><rect x="423.97" y="262.7" width="3.85" height="5.5" fill="#d2d4d8"/><rect x="423.97" y="268.2" width="3.85" height="78.3" fill="#da943c"/>
<rect x="429.62" y="215.9" width="3.85" height="43.5" fill="#ba4a2e"/><rect x="429.62" y="259.4" width="3.85" height="5.0" fill="#1a50ac"/><rect x="429.62" y="264.4" width="3.85" height="5.0" fill="#d2d4d8"/><rect x="429.62" y="269.4" width="3.85" height="77.1" fill="#da943c"/>
<rect x="435.27" y="217.6" width="3.85" height="42.8" fill="#ba4a2e"/><rect x="435.27" y="260.4" width="3.85" height="4.8" fill="#1a50ac"/><rect x="435.27" y="265.2" width="3.85" height="4.7" fill="#d2d4d8"/><rect x="435.27" y="269.9" width="3.85" height="76.6" fill="#da943c"/>
<rect x="440.91" y="220.1" width="3.85" height="43.1" fill="#ba4a2e"/><rect x="440.91" y="263.2" width="3.85" height="4.0" fill="#1a50ac"/><rect x="440.91" y="267.2" width="3.85" height="3.9" fill="#d2d4d8"/><rect x="440.91" y="271.1" width="3.85" height="75.4" fill="#da943c"/>
<rect x="446.56" y="214.7" width="3.85" height="44.2" fill="#ba4a2e"/><rect x="446.56" y="258.9" width="3.85" height="4.7" fill="#1a50ac"/><rect x="446.56" y="263.6" width="3.85" height="4.6" fill="#d2d4d8"/><rect x="446.56" y="268.2" width="3.85" height="78.3" fill="#da943c"/>
<rect x="452.20" y="217.6" width="3.85" height="44.0" fill="#ba4a2e"/><rect x="452.20" y="261.6" width="3.85" height="4.0" fill="#1a50ac"/><rect x="452.20" y="265.6" width="3.85" height="4.3" fill="#d2d4d8"/><rect x="452.20" y="269.9" width="3.85" height="76.6" fill="#da943c"/>
<rect x="457.85" y="215.9" width="3.85" height="43.5" fill="#ba4a2e"/><rect x="457.85" y="259.4" width="3.85" height="4.2" fill="#1a50ac"/><rect x="457.85" y="263.6" width="3.85" height="5.8" fill="#d2d4d8"/><rect x="457.85" y="269.4" width="3.85" height="77.1" fill="#da943c"/>
<rect x="463.50" y="219.2" width="3.85" height="41.0" fill="#ba4a2e"/><rect x="463.50" y="260.2" width="3.85" height="4.2" fill="#1a50ac"/><rect x="463.50" y="264.4" width="3.85" height="3.3" fill="#d2d4d8"/><rect x="463.50" y="267.7" width="3.85" height="78.8" fill="#da943c"/>
<rect x="469.14" y="215.9" width="3.85" height="41.8" fill="#ba4a2e"/><rect x="469.14" y="257.7" width="3.85" height="4.2" fill="#1a50ac"/><rect x="469.14" y="261.9" width="3.85" height="5.0" fill="#d2d4d8"/><rect x="469.14" y="266.9" width="3.85" height="79.6" fill="#da943c"/>
<rect x="474.79" y="215.9" width="3.85" height="43.5" fill="#ba4a2e"/><rect x="474.79" y="259.4" width="3.85" height="4.2" fill="#1a50ac"/><rect x="474.79" y="263.6" width="3.85" height="4.1" fill="#d2d4d8"/><rect x="474.79" y="267.7" width="3.85" height="78.8" fill="#da943c"/>
<rect x="480.43" y="216.7" width="3.85" height="43.5" fill="#ba4a2e"/><rect x="480.43" y="260.2" width="3.85" height="4.7" fill="#1a50ac"/><rect x="480.43" y="264.9" width="3.85" height="3.3" fill="#d2d4d8"/><rect x="480.43" y="268.2" width="3.85" height="78.3" fill="#da943c"/>
<rect x="486.08" y="217.6" width="3.85" height="42.9" fill="#ba4a2e"/><rect x="486.08" y="260.5" width="3.85" height="4.4" fill="#1a50ac"/><rect x="486.08" y="264.9" width="3.85" height="3.3" fill="#d2d4d8"/><rect x="486.08" y="268.2" width="3.85" height="78.3" fill="#da943c"/>
<rect x="491.73" y="217.6" width="3.85" height="42.9" fill="#ba4a2e"/><rect x="491.73" y="260.5" width="3.85" height="3.9" fill="#1a50ac"/><rect x="491.73" y="264.4" width="3.85" height="4.2" fill="#d2d4d8"/><rect x="491.73" y="268.6" width="3.85" height="77.9" fill="#da943c"/>
<rect x="497.37" y="218.4" width="3.85" height="42.6" fill="#ba4a2e"/><rect x="497.37" y="261.0" width="3.85" height="4.6" fill="#1a50ac"/><rect x="497.37" y="265.6" width="3.85" height="3.0" fill="#d2d4d8"/><rect x="497.37" y="268.6" width="3.85" height="77.9" fill="#da943c"/>
<rect x="503.02" y="215.9" width="3.85" height="37.6" fill="#ba4a2e"/><rect x="503.02" y="253.5" width="3.85" height="5.0" fill="#1a50ac"/><rect x="503.02" y="258.5" width="3.85" height="5.9" fill="#d2d4d8"/><rect x="503.02" y="264.4" width="3.85" height="82.1" fill="#da943c"/>
<rect x="508.66" y="205.3" width="3.85" height="39.9" fill="#ba4a2e"/><rect x="508.66" y="245.2" width="3.85" height="4.6" fill="#1a50ac"/><rect x="508.66" y="249.8" width="3.85" height="6.2" fill="#d2d4d8"/><rect x="508.66" y="256.0" width="3.85" height="90.5" fill="#da943c"/>
<rect x="514.31" y="204.2" width="3.85" height="39.3" fill="#ba4a2e"/><rect x="514.31" y="243.5" width="3.85" height="6.3" fill="#1a50ac"/><rect x="514.31" y="249.8" width="3.85" height="5.4" fill="#d2d4d8"/><rect x="514.31" y="255.2" width="3.85" height="91.3" fill="#da943c"/>
<rect x="519.96" y="203.0" width="3.85" height="38.8" fill="#ba4a2e"/><rect x="519.96" y="241.8" width="3.85" height="4.7" fill="#1a50ac"/><rect x="519.96" y="246.5" width="3.85" height="6.2" fill="#d2d4d8"/><rect x="519.96" y="252.7" width="3.85" height="93.8" fill="#da943c"/>
<rect x="525.60" y="199.0" width="3.85" height="41.1" fill="#ba4a2e"/><rect x="525.60" y="240.1" width="3.85" height="5.9" fill="#1a50ac"/><rect x="525.60" y="246.0" width="3.85" height="6.7" fill="#d2d4d8"/><rect x="525.60" y="252.7" width="3.85" height="93.8" fill="#da943c"/>
<rect x="531.25" y="200.9" width="3.85" height="37.0" fill="#ba4a2e"/><rect x="531.25" y="237.9" width="3.85" height="5.1" fill="#1a50ac"/><rect x="531.25" y="243.0" width="3.85" height="5.0" fill="#d2d4d8"/><rect x="531.25" y="248.0" width="3.85" height="98.5" fill="#da943c"/>
<rect x="536.89" y="196.7" width="3.85" height="36.8" fill="#ba4a2e"/><rect x="536.89" y="233.5" width="3.85" height="5.0" fill="#1a50ac"/><rect x="536.89" y="238.5" width="3.85" height="6.7" fill="#d2d4d8"/><rect x="536.89" y="245.2" width="3.85" height="101.3" fill="#da943c"/>
<rect x="542.54" y="193.1" width="3.85" height="37.1" fill="#ba4a2e"/><rect x="542.54" y="230.2" width="3.85" height="4.7" fill="#1a50ac"/><rect x="542.54" y="234.9" width="3.85" height="7.8" fill="#d2d4d8"/><rect x="542.54" y="242.7" width="3.85" height="103.8" fill="#da943c"/>
<rect x="548.19" y="190.0" width="3.85" height="36.5" fill="#ba4a2e"/><rect x="548.19" y="226.5" width="3.85" height="4.5" fill="#1a50ac"/><rect x="548.19" y="231.0" width="3.85" height="10.0" fill="#d2d4d8"/><rect x="548.19" y="241.0" width="3.85" height="105.5" fill="#da943c"/>
<rect x="553.83" y="189.2" width="3.85" height="37.6" fill="#ba4a2e"/><rect x="553.83" y="226.8" width="3.85" height="4.2" fill="#1a50ac"/><rect x="553.83" y="231.0" width="3.85" height="9.5" fill="#d2d4d8"/><rect x="553.83" y="240.5" width="3.85" height="106.0" fill="#da943c"/>
<rect x="559.48" y="190.9" width="3.85" height="37.3" fill="#ba4a2e"/><rect x="559.48" y="228.2" width="3.85" height="4.5" fill="#1a50ac"/><rect x="559.48" y="232.7" width="3.85" height="8.3" fill="#d2d4d8"/><rect x="559.48" y="241.0" width="3.85" height="105.5" fill="#da943c"/>
</g>
<g fill="#c8c8c8">
<rect x="40.2" y="346" width="1.3" height="5.5"/>
<rect x="176.6" y="346" width="1.3" height="5.5"/>
<rect x="313.1" y="346" width="1.3" height="5.5"/>
<rect x="449.6" y="346" width="1.3" height="5.5"/>
</g>
<text x="40.8" y="370.7" textLength="31.6" lengthAdjust="spacingAndGlyphs" font-size="14.5" fill="#d0d0d0" stroke="#d0d0d0" stroke-width="0.3" text-anchor="middle" >2012</text>
<text x="177.2" y="370.7" textLength="31.6" lengthAdjust="spacingAndGlyphs" font-size="14.5" fill="#d0d0d0" stroke="#d0d0d0" stroke-width="0.3" text-anchor="middle" >2014</text>
<text x="313.8" y="370.7" textLength="31.6" lengthAdjust="spacingAndGlyphs" font-size="14.5" fill="#d0d0d0" stroke="#d0d0d0" stroke-width="0.3" text-anchor="middle" >2016</text>
<text x="450.3" y="370.7" textLength="31.6" lengthAdjust="spacingAndGlyphs" font-size="14.5" fill="#d0d0d0" stroke="#d0d0d0" stroke-width="0.3" text-anchor="middle" >2018</text>
<text y="396.3" font-size="13" font-weight="normal" fill="#d6d6d6" stroke="#d6d6d6" stroke-width="0.3" style="font-family:'DejaVu Sans Condensed','DejaVu Sans',sans-serif"><tspan x="20.5" textLength="45.47" lengthAdjust="spacingAndGlyphs">Source:</tspan> <tspan x="72.0" textLength="46.44" lengthAdjust="spacingAndGlyphs">Sanford</tspan> <tspan x="125.0" textLength="8.51" lengthAdjust="spacingAndGlyphs">C.</tspan> <tspan x="138.49" textLength="56.43" lengthAdjust="spacingAndGlyphs">Bernstein</tspan> <tspan x="200.0" textLength="8.11" lengthAdjust="spacingAndGlyphs">&amp;</tspan> <tspan x="213.75" textLength="14.81" lengthAdjust="spacingAndGlyphs">Co.</tspan></text>
<text y="410.7" font-size="13" font-weight="normal" fill="#d6d6d6" stroke="#d6d6d6" stroke-width="0.3" style="font-family:'DejaVu Sans Condensed','DejaVu Sans',sans-serif"><tspan x="19.42" textLength="34.09" lengthAdjust="spacingAndGlyphs">Note:</tspan> <tspan x="58.0" textLength="30.9" lengthAdjust="spacingAndGlyphs">China</tspan> <tspan x="95.0" textLength="57.39" lengthAdjust="spacingAndGlyphs">stockpiles</tspan> <tspan x="158.27" textLength="39.41" lengthAdjust="spacingAndGlyphs">include</tspan> <tspan x="205.0" textLength="66.61" lengthAdjust="spacingAndGlyphs">government</tspan> <tspan x="281.0" textLength="20.65" lengthAdjust="spacingAndGlyphs">and</tspan> <tspan x="308.0" textLength="69.45" lengthAdjust="spacingAndGlyphs">commercial</tspan></text>
<text x="626.7" y="415.7" textLength="69.5" lengthAdjust="spacingAndGlyphs" text-anchor="end" font-size="13" font-weight="bold" fill="#e6e6e6" style="font-family:'Liberation Sans',sans-serif">Bloomberg</text>
</g>
</svg>
</body></html>
